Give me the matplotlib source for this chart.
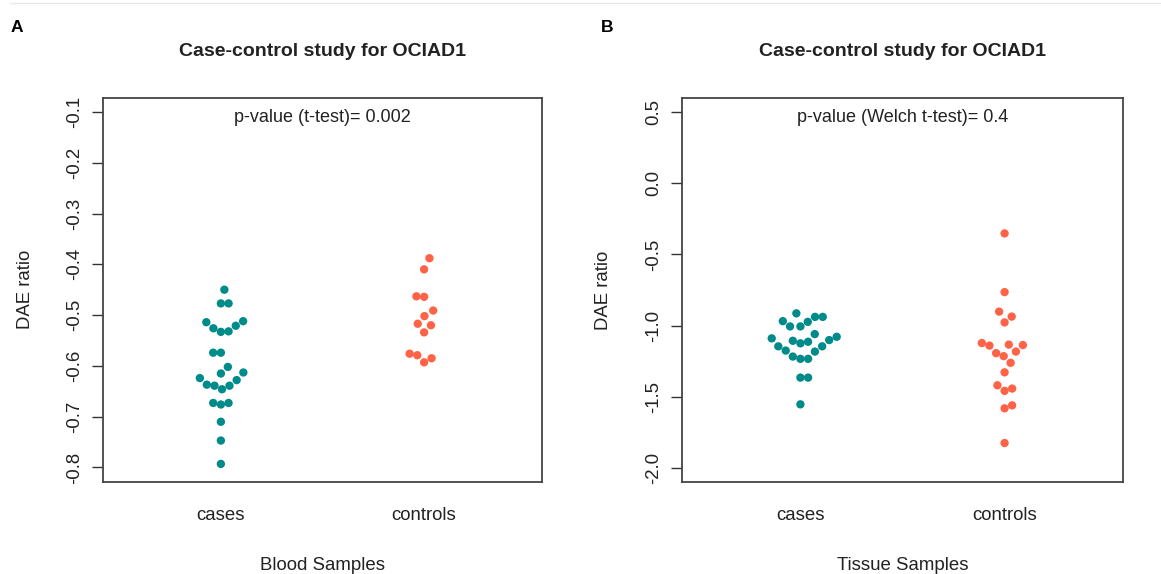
import numpy as np
import matplotlib
matplotlib.use("Agg")
import matplotlib.pyplot as plt

plt.rcParams['font.family'] = ['Liberation Sans', 'DejaVu Sans']

# DAE ratios per group
groups = ["cases", "controls"]

blood_cases = [-0.450, -0.477, -0.477, -0.514, -0.512, -0.526, -0.521, -0.533,
               -0.532, -0.574, -0.574, -0.602, -0.615, -0.613, -0.628, -0.624,
               -0.639, -0.637, -0.646, -0.639, -0.673, -0.676, -0.673, -0.710,
               -0.747, -0.793]
blood_controls = [-0.388, -0.410, -0.463, -0.464, -0.491, -0.502, -0.517,
                  -0.520, -0.534, -0.576, -0.579, -0.593, -0.585]

tissue_cases = [-0.914, -0.939, -0.939, -0.969, -0.974, -1.006, -1.006, -1.060,
                -1.090, -1.079, -1.102, -1.125, -1.114, -1.107, -1.146, -1.146,
                -1.176, -1.183, -1.218, -1.234, -1.234, -1.366, -1.366, -1.554]
tissue_controls = [-0.352, -0.765, -0.902, -0.937, -0.978, -1.134, -1.141,
                   -1.123, -1.137, -1.194, -1.183, -1.215, -1.262, -1.329,
                   -1.420, -1.459, -1.443, -1.582, -1.561, -1.826]

blood_ticks = [-0.1, -0.2, -0.3, -0.4, -0.5, -0.6, -0.7, -0.8]
tissue_ticks = [0.5, 0.0, -0.5, -1.0, -1.5, -2.0]

col_cases = "#008B8B"
col_controls = "#FF6347"
txt = "#222222"

W, H = 1161, 574
fig = plt.figure(figsize=(W / 100, H / 100), dpi=100)


def px_box(left, top, right, bottom):
    return [left / W, 1 - bottom / H, (right - left) / W, (bottom - top) / H]


def swarm(ax, values, center, diam, yscale=0.5):
    # beeswarm: place points bottom-up, each as close to the centre as it fits;
    # vertical gaps count for less than horizontal ones (wider swarm)
    ys = ax.transData.transform(np.column_stack([np.full(len(values), center), values]))[:, 1]
    ys = ys * yscale
    placed = []
    offs = np.zeros(len(values))
    for i in np.argsort(ys, kind="stable"):
        y = ys[i]
        cands = [0.0]
        for px, py in placed:
            dy = y - py
            if abs(dy) < diam:
                dx = np.sqrt(diam ** 2 - dy ** 2)
                cands += [px + dx, px - dx]
        cands.sort(key=abs)
        for c in cands:
            if all((c - px) ** 2 + (y - py) ** 2 >= diam ** 2 - 1e-6 for px, py in placed):
                break
        placed.append((c, y))
        offs[i] = c
    x0, x1 = ax.get_xlim()
    return center + offs * (x1 - x0) / ax.bbox.width


def panel(box, cases, controls, ticks, ylim, ptext, xlab, letter, letter_x):
    ax = fig.add_axes(px_box(*box))
    pad = 0.04 * (ylim[1] - ylim[0])
    ax.set_ylim(ylim[0] - pad, ylim[1] + pad)
    ax.set_xlim(0.42, 2.58)
    for pos, vals, col in [(1, cases, col_cases), (2, controls, col_controls)]:
        xs = swarm(ax, vals, pos, 7.7)
        ax.scatter(xs, vals, s=36, color=col, edgecolors="none", zorder=3)
    ax.set_yticks(ticks)
    ax.set_yticklabels([f"{t:.1f}" for t in ticks], rotation=90, va="center")
    ax.set_xticks([1, 2])
    ax.set_xticklabels(groups)
    ax.tick_params(axis="y", length=8, width=1, color="#333333", pad=6,
                   labelsize=13.4, labelcolor=txt)
    ax.tick_params(axis="x", length=0, pad=18, labelsize=13.4, labelcolor=txt)
    for s in ax.spines.values():
        s.set_color("#444444")
        s.set_linewidth(1.3)
    ax.text(0.5, 0.948, ptext, transform=ax.transAxes, ha="center", va="center",
            fontsize=13, color=txt)

    cx = (box[0] + box[2]) / 2
    cy = (box[1] + box[3]) / 2
    fig.text(cx / W, 1 - 52 / H, "Case-control study for OCIAD1", ha="center",
             va="center", fontsize=14, fontweight="bold", color=txt)
    fig.text(cx / W, 1 - 565 / H, xlab, ha="center", va="center",
             fontsize=13.4, color=txt)
    fig.text((box[0] - 78) / W, 1 - cy / H, "DAE ratio", rotation=90,
             ha="center", va="center", fontsize=13.4, color=txt)
    fig.text(letter_x / W, 1 - 28 / H, letter, ha="center", va="center",
             fontsize=12.5, fontweight="bold", color="black")
    return ax


panel((103, 97.7, 542, 481.7), blood_cases, blood_controls, blood_ticks,
      (-0.8, -0.1), "p-value (t-test)= 0.002", "Blood Samples", "A", 17)
panel((682, 98, 1123, 482), tissue_cases, tissue_controls, tissue_ticks,
      (-2.0, 0.5), "p-value (Welch t-test)= 0.4", "Tissue Samples", "B", 607)

# thin rule along the top edge
fig.add_artist(plt.Line2D([10 / W, 1], [1 - 3 / H, 1 - 3 / H], color="#e8e8e8",
                          lw=1, transform=fig.transFigure))

fig.savefig("out.png", dpi=100)
